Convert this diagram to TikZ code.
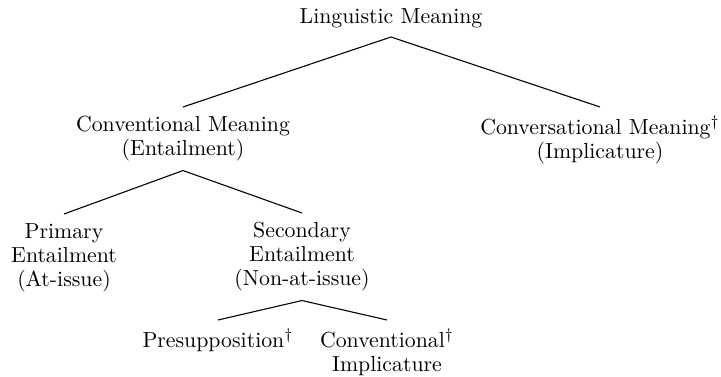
\documentclass[tikz,border=0pt]{standalone}
\begin{document}
\begin{tikzpicture}[x=0.4587pt,y=-0.4587pt,
  lab/.style={align=center,inner sep=4.1pt,font=\fontsize{10}{11}\selectfont},
  edge/.style={draw=black,line width=0.5pt}]
\useasboundingbox (0,0) rectangle (721,377);
\node[lab,anchor=south] (lm) at (391,37) {Linguistic Meaning};
\node[lab,anchor=north] (cm) at (183,107) {Conventional Meaning\\(Entailment)};
\node[lab,anchor=north] (conv) at (600,107) {Conversational Meaning$^\dagger$\\(Implicature)};
\node[lab,anchor=north] (pe) at (64,214) {Primary\\Entailment\\(At-issue)};
\node[lab,anchor=north] (se) at (302,213) {Secondary\\Entailment\\(Non-at-issue)};
\node[lab,anchor=north] (pre) at (218,320) {Presupposition$^\dagger$};
\node[lab,anchor=north] (ci) at (387,320) {Conventional$^\dagger$\\Implicature};
\draw[edge] (cm.north) -- (lm.south) -- (conv.north);
\draw[edge] (pe.north) -- (cm.south) -- (se.north);
\draw[edge] (pre.north) -- (se.south) -- (ci.north);
\end{tikzpicture}
\end{document}
